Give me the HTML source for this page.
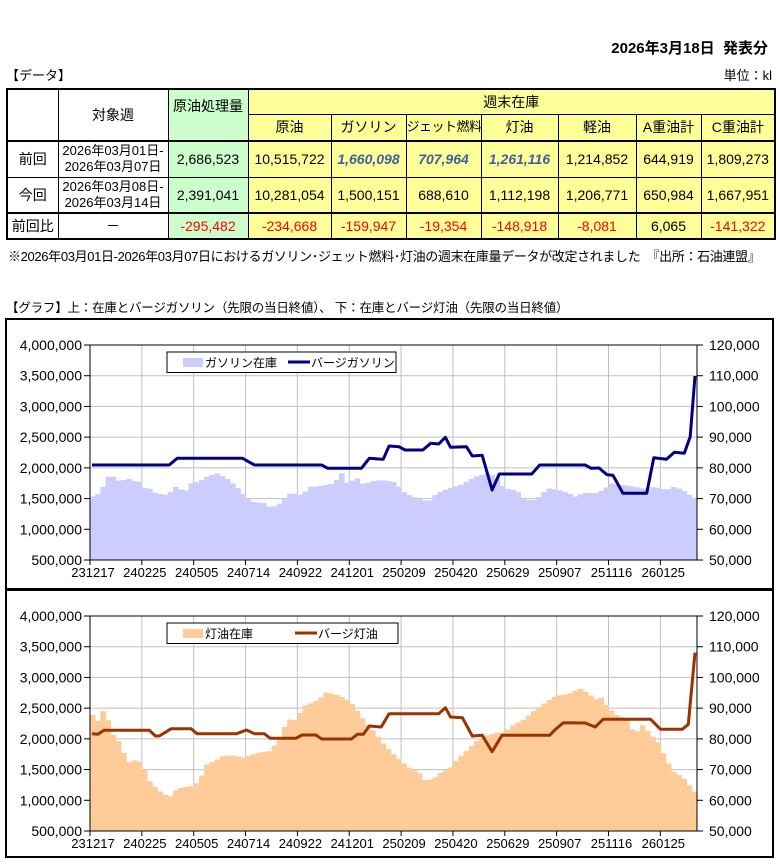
<!DOCTYPE html>
<html><head><meta charset="utf-8">
<style>
body{margin:0;width:780px;height:865px;background:#fff;font-family:"Liberation Sans","Noto Sans CJK JP",sans-serif;color:#000;position:relative;overflow:hidden}
.a{position:absolute;white-space:nowrap}
table{position:absolute;left:6px;top:88px;border-collapse:collapse;font-size:14px;table-layout:fixed;width:768px}
td{border:1px solid #000;text-align:center;padding:0;white-space:nowrap;overflow:hidden;line-height:16px}
.y{background:#ffff99}.g{background:#ccffcc}
.r{color:#ff0000}.b{color:#3f5f9f;font-style:italic;font-weight:bold}
</style></head><body>
<div class="a" style="right:12px;top:37px;font-size:15px;font-weight:bold">2026年3月18日&nbsp; 発表分</div>
<div class="a" style="left:6px;top:65px;font-size:13px">【データ】</div>
<div class="a" style="right:8px;top:65px;font-size:13px">単位：kl</div>
<table>
<colgroup><col style="width:51px"><col style="width:110px"><col style="width:80px"><col style="width:83px"><col style="width:75px"><col style="width:75px"><col style="width:77px"><col style="width:78px"><col style="width:65px"><col style="width:74px"></colgroup>
<tr style="border-top:2px solid #000;height:25px"><td rowspan="2" style="border-left:2px solid #000"></td><td rowspan="2">対象週</td><td rowspan="2" class="g" style="vertical-align:top;padding-top:8px">原油処理量</td><td colspan="7" class="y" style="border-right:2px solid #000">週末在庫</td></tr>
<tr style="border-bottom:2px solid #000;height:27px"><td class="y">原油</td><td class="y">ガソリン</td><td class="y" style="font-size:13px;letter-spacing:-0.5px">ジェット燃料</td><td class="y">灯油</td><td class="y">軽油</td><td class="y">A重油計</td><td class="y" style="border-right:2px solid #000">C重油計</td></tr>
<tr style="height:36px"><td style="border-left:2px solid #000">前回</td><td style="font-size:13px">2026年03月01日-<br>2026年03月07日</td><td class="g">2,686,523</td><td class="y">10,515,722</td><td class="y b">1,660,098</td><td class="y b">707,964</td><td class="y b">1,261,116</td><td class="y">1,214,852</td><td class="y">644,919</td><td class="y" style="border-right:2px solid #000">1,809,273</td></tr>
<tr style="border-bottom:2px solid #000;height:36px"><td style="border-left:2px solid #000">今回</td><td style="font-size:13px">2026年03月08日-<br>2026年03月14日</td><td class="g">2,391,041</td><td class="y">10,281,054</td><td class="y">1,500,151</td><td class="y">688,610</td><td class="y">1,112,198</td><td class="y">1,206,771</td><td class="y">650,984</td><td class="y" style="border-right:2px solid #000">1,667,951</td></tr>
<tr style="border-bottom:2px solid #000;height:26px"><td style="border-left:2px solid #000">前回比</td><td>－</td><td class="g r">-295,482</td><td class="y r">-234,668</td><td class="y r">-159,947</td><td class="y r">-19,354</td><td class="y r">-148,918</td><td class="y r">-8,081</td><td class="y">6,065</td><td class="y r" style="border-right:2px solid #000">-141,322</td></tr>
</table>
<div class="a" style="left:8px;top:246px;font-size:13px;letter-spacing:-0.35px">※2026年03月01日-2026年03月07日におけるガソリン･ジェット燃料･灯油の週末在庫量データが改定されました　『出所：石油連盟』</div>
<div class="a" style="left:6px;top:297px;font-size:12.5px;letter-spacing:-0.2px">【グラフ】上：在庫とバージガソリン（先限の当日終値）、 下：在庫とバージ灯油（先限の当日終値）</div>
<svg id="s" class="a" style="left:0;top:0" width="780" height="865" font-family="Liberation Sans, Noto Sans CJK JP, sans-serif"></svg>
<script>
const S=document.getElementById('s');let h='';
const X=zx=>90+(zx-25)/2.524;
const lbl=['231217','240225','240505','240714','240922','241201','250209','250420','250629','250907','251116','260125'];
function chart(top,bars,bcol,line,lcol,l1,l2,lw2){
 const fy=top-26;
 h+=`<rect x="6" y="${fy}" width="767" height="${top<400?270:267}" fill="#fff" stroke="#000" stroke-width="2"/>`;
 const y0=top,y1=top+215;
 let pts=bars.map(p=>[X(p[0]),y0-15+p[1]/3]);
 const w=607/117;let d='';
 for(let i=0;i<117;i++){const cx=90+i*w+w/2;let yv=pts[0][1];
  for(let k=0;k<pts.length-1;k++){if(cx>=pts[k][0]&&cx<=pts[k+1][0]){const t=(cx-pts[k][0])/(pts[k+1][0]-pts[k][0]);yv=pts[k][1]+t*(pts[k+1][1]-pts[k][1]);}}
  if(cx>pts[pts.length-1][0])yv=pts[pts.length-1][1];
  d+=`<rect x="${(90+i*w).toFixed(2)}" y="${yv.toFixed(1)}" width="${(w+0.4).toFixed(2)}" height="${(y1-yv).toFixed(1)}" fill="${bcol}"/>`;}
 for(let j=1;j<7;j++){const y=y0+j*215/7;h+=`<line x1="90" x2="697" y1="${y}" y2="${y}" stroke="#c0c0c0"/>`;}
 for(let j=1;j<12;j++){const x=90+j*51.85;h+=`<line x1="${x}" x2="${x}" y1="${y0}" y2="${y1}" stroke="#c0c0c0"/>`;}
 h+=d;
 for(let j=0;j<8;j++){const y=y0+j*215/7;
  h+=`<text x="82" y="${y+5}" font-size="14" text-anchor="end">${(4000000-j*500000).toLocaleString('en-US')}</text>`;
  h+=`<text x="709" y="${y+5}" font-size="14">${(120000-j*10000).toLocaleString('en-US')}</text>`;
  h+=`<line x1="84" x2="90" y1="${y}" y2="${y}" stroke="#000"/><line x1="697" x2="703" y1="${y}" y2="${y}" stroke="#000"/>`;}
 for(let j=0;j<12;j++){const x=90+j*51.85;h+=`<text x="${x+3}" y="${y1+17}" font-size="13" text-anchor="middle">${lbl[j]}</text><line x1="${x}" x2="${x}" y1="${y1}" y2="${y1+5}" stroke="#000"/>`;}
 h+=`<rect x="90" y="${y0}" width="607" height="215" fill="none" stroke="#000"/>`;
 h+=`<polyline fill="none" stroke="${lcol}" stroke-width="3" stroke-linejoin="round" points="${line.map(p=>X(p[0]).toFixed(1)+','+(y0-15+p[1]/3).toFixed(1)).join(' ')}"/>`;
 const ly=y0+7;
 h+=`<rect x="167" y="${ly}" width="${lw2}" height="20.5" fill="#fff" stroke="#000"/>`;
 h+=`<rect x="183" y="${ly+6}" width="20" height="9" fill="${bcol}"/><text x="205" y="${ly+15}" font-size="12">${l1}</text>`;
 const lx=l2[1];
 h+=`<line x1="${lx}" x2="${lx+22}" y1="${ly+10}" y2="${ly+10}" stroke="${lcol}" stroke-width="3"/><text x="${lx+23}" y="${ly+15}" font-size="12">${l2[0]}</text>`;
}
const gb=[[30,500],[50,490],[70,440],[85,440],[100,455],[120,445],[140,455],[155,455],[165,480],[180,475],[190,490],[220,495],[240,470],[265,485],[280,460],[300,455],[320,440],[345,430],[370,445],[395,470],[410,490],[430,515],[470,520],[480,535],[505,520],[530,490],[560,495],[580,470],[600,470],[640,460],[660,430],[670,460],[700,445],[715,465],[730,455],[760,450],[790,455],[800,465],[820,490],[850,505],[880,515],[900,490],[930,475],[960,465],[990,445],[1010,435],[1030,430],[1050,440],[1070,475],[1095,480],[1110,490],[1120,510],[1150,510],[1180,475],[1200,478],[1230,488],[1250,500],[1270,488],[1300,490],[1320,480],[1340,460],[1370,465],[1400,470],[1430,478],[1450,470],[1480,480],[1500,470],[1520,480],[1550,505]];
const gl=[[30,405],[225,405],[245,385],[410,385],[440,405],[610,405],[625,415],[710,415],[730,385],[765,388],[780,348],[805,350],[820,360],[865,360],[885,340],[905,342],[922,322],[935,352],[975,350],[990,378],[1015,376],[1040,480],[1058,432],[1140,432],[1160,405],[1275,405],[1290,415],[1310,414],[1330,434],[1345,436],[1370,490],[1430,490],[1448,383],[1480,388],[1500,367],[1525,370],[1540,320],[1552,138]];
const kb=[[30,340],[45,360],[58,330],[70,355],[85,405],[100,425],[120,485],[145,475],[160,500],[175,540],[200,570],[225,590],[240,568],[260,558],[285,555],[300,540],[320,490],[340,480],[360,465],[380,462],[410,470],[450,455],[480,450],[500,418],[525,355],[545,358],[565,315],[600,298],[620,275],[650,282],[680,300],[700,330],[720,365],[740,390],[770,435],[800,470],[830,500],[855,515],[870,538],[890,535],[910,515],[935,500],[955,470],[975,450],[1000,420],[1020,405],[1050,395],[1070,395],[1090,375],[1120,355],[1150,325],[1180,300],[1200,285],[1230,280],[1260,262],[1280,275],[1300,295],[1315,290],[1330,315],[1350,340],[1380,355],[1400,400],[1420,372],[1440,400],[1460,425],[1480,478],[1500,515],[1520,527],[1535,550],[1552,575]];
const kl=[[30,398],[45,400],[60,388],[175,388],[190,405],[200,405],[230,383],[280,383],[295,398],[395,398],[420,387],[440,398],[465,398],[480,412],[545,412],[560,402],[595,402],[610,414],[685,414],[700,400],[715,400],[730,375],[760,378],[780,338],[905,338],[922,320],[935,348],[965,350],[990,405],[1015,403],[1040,452],[1065,403],[1185,403],[1200,385],[1220,365],[1275,366],[1300,378],[1320,355],[1440,355],[1465,385],[1520,385],[1535,370],[1552,155]];
chart(345,gb,'#ccccff',gl,'#000080','ガソリン在庫',['バージガソリン',288],229);
chart(616,kb,'#ffcc99',kl,'#993300','灯油在庫',['バージ灯油',295],231);
S.innerHTML=h;
</script>
</body></html>
